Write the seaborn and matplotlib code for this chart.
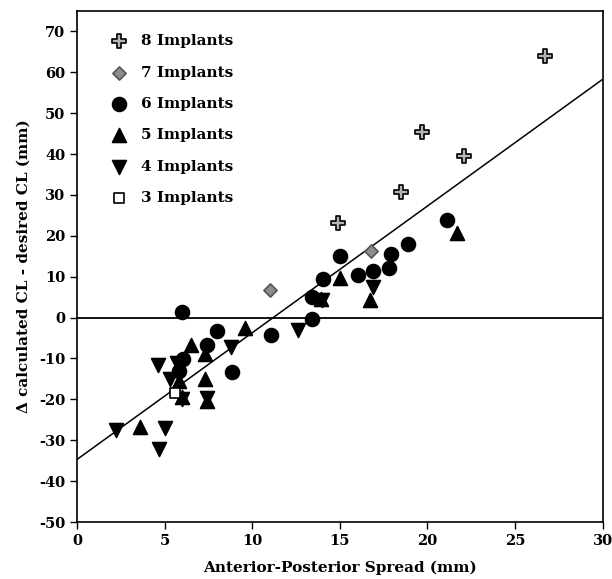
import matplotlib
matplotlib.use("Agg")
import matplotlib.pyplot as plt
import seaborn as sns
import numpy as np
import pandas as pd

# data (x = A-P spread mm, y = delta CL mm)
x8 = [14.9, 18.5, 19.7, 22.1, 26.7]
y8 = [23.2, 30.8, 45.3, 39.6, 64.0]

x7 = [11.0, 16.8]
y7 = [6.8, 16.4]

x6 = [6.0, 8.0, 7.4, 6.06, 8.86, 5.8, 11.05, 13.4, 13.4, 14.05, 15.0, 16.05, 16.87, 17.8, 17.9, 18.9, 21.1]
y6 = [1.3, -3.2, -6.7, -10.2, -13.4, -13.0, -4.2, -0.3, 5.0, 9.4, 15.1, 10.5, 11.3, 12.1, 15.6, 18.0, 23.8]

x5 = [21.7, 16.7, 15.0, 13.9, 9.6, 6.5, 7.3, 7.3, 3.6, 5.8, 6.0, 7.4]
y5 = [20.7, 4.4, 9.7, 4.6, -2.6, -6.7, -8.9, -15.1, -26.7, -15.5, -19.5, -20.3]

x4 = [16.9, 12.6, 14.0, 8.8, 4.6, 5.7, 5.3, 6.0, 7.4, 2.2, 5.0, 4.7]
y4 = [7.6, -3.0, 4.2, -7.1, -11.6, -11.0, -15.0, -19.8, -19.7, -27.6, -27.1, -32.2]

x3 = [5.6]
y3 = [-18.5]

fit_intercept = -34.7
fit_slope = 3.1

sns.set_style("ticks")
plt.rcParams["font.family"] = ["DejaVu Serif"]
plt.rcParams["font.weight"] = "bold"
plt.rcParams["axes.unicode_minus"] = False
plt.rcParams["text.color"] = "black"
plt.rcParams["axes.labelcolor"] = "black"
plt.rcParams["xtick.color"] = "black"
plt.rcParams["ytick.color"] = "black"
plt.rcParams["axes.edgecolor"] = "black"

fig = plt.figure(figsize=(6.12, 5.79), dpi=100)
ax = fig.add_axes([0.1258, 0.0984, 0.859, 0.8826])

groups = [
    ("8 Implants", x8, y8, "P", "#b5b5b5", "black", 105),
    ("7 Implants", x7, y7, "D", "#8c8c8c", "#555555", 45),
    ("6 Implants", x6, y6, "o", "black", "black", 100),
    ("5 Implants", x5, y5, "^", "black", "black", 100),
    ("4 Implants", x4, y4, "v", "black", "black", 100),
    ("3 Implants", x3, y3, "s", "white", "black", 60),
]

for label, xs, ys, m, fc, ec, s in groups:
    df = pd.DataFrame({"x": xs, "y": ys})
    sns.scatterplot(data=df, x="x", y="y", marker=m, color=fc, edgecolor=ec,
                    linewidth=1.2, s=s, ax=ax, label=label, zorder=3)

# regression line and zero line
xl = np.array([0, 30])
ax.plot(xl, fit_intercept + fit_slope * xl, color="black", lw=1.1, zorder=2)
ax.axhline(0, color="black", lw=1.3, zorder=2)

ax.set_xlim(0, 30)
ax.set_ylim(-50, 75)
ax.set_xticks(range(0, 31, 5))
ax.set_yticks(range(-50, 71, 10))
ax.tick_params(direction="out", length=5, width=1, labelsize=10.5)
for lab in ax.get_xticklabels() + ax.get_yticklabels():
    lab.set_fontweight("bold")
for sp in ax.spines.values():
    sp.set_visible(True)
    sp.set_linewidth(1.2)

ax.set_xlabel("Anterior-Posterior Spread (mm)", fontsize=11, fontweight="bold", labelpad=9)
ax.set_ylabel("\u0394 calculated CL - desired CL (mm)", fontsize=11, fontweight="bold", labelpad=6)

leg = ax.legend(loc="upper left", frameon=False, fontsize=11, bbox_to_anchor=(0.03, 0.975),
                labelspacing=1.13, handletextpad=0.45, borderaxespad=0.3)
for t in leg.get_texts():
    t.set_fontweight("bold")

plt.savefig("out.png", dpi=100)
